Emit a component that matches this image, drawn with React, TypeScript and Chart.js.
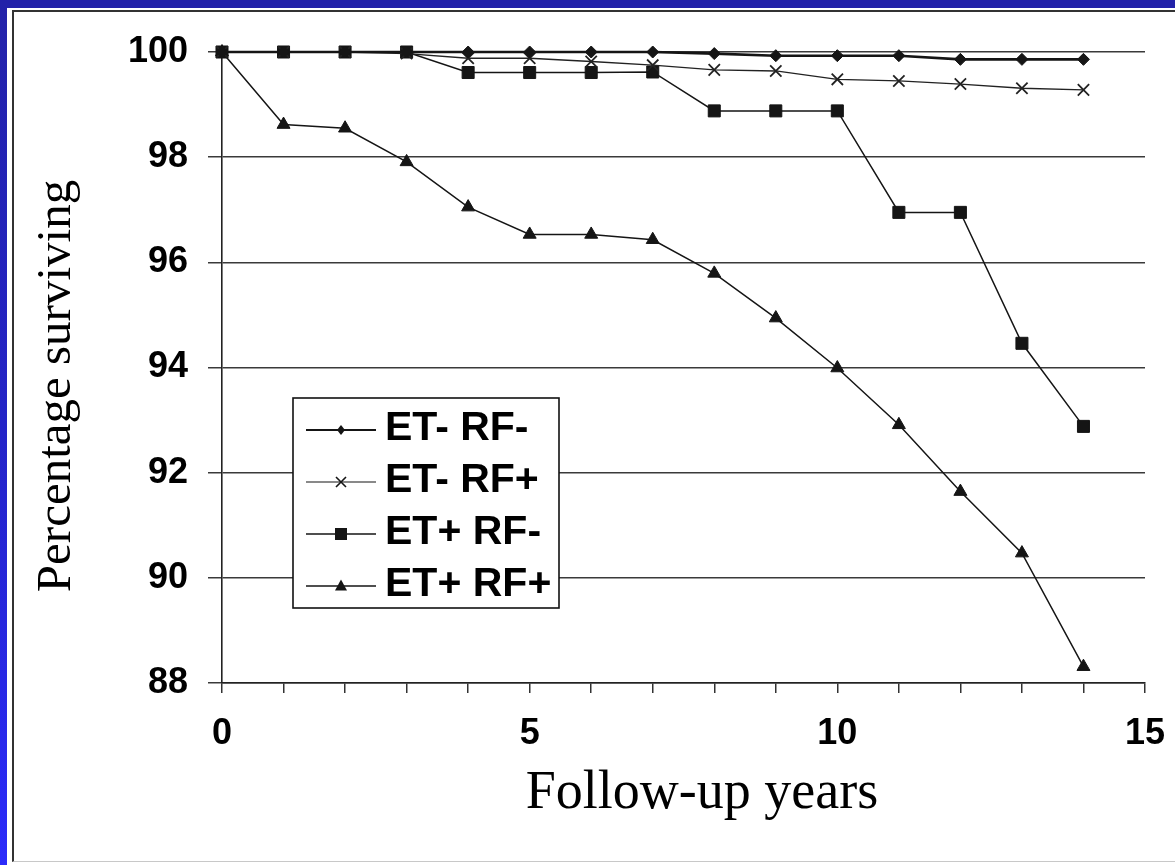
import React, { useEffect, useRef } from "react";
import { Chart, registerables } from "chart.js";

Chart.register(...registerables);

// ---- data ----
const years = [0, 1, 2, 3, 4, 5, 6, 7, 8, 9, 10, 11, 12, 13, 14];
const etNegRfNeg = [100, 100, 100, 100, 100, 100, 100, 100, 99.97, 99.93, 99.93, 99.93, 99.86, 99.86, 99.86];
const etNegRfPos = [100, 100, 100, 99.97, 99.88, 99.88, 99.82, 99.75, 99.66, 99.64, 99.48, 99.45, 99.39, 99.31, 99.28];
const etPosRfNeg = [100, 100, 100, 100, 99.61, 99.61, 99.61, 99.62, 98.88, 98.88, 98.88, 96.95, 96.95, 94.46, 92.88];
const etPosRfPos = [100, 98.62, 98.55, 97.91, 97.05, 96.53, 96.53, 96.43, 95.79, 94.94, 93.99, 92.91, 91.64, 90.47, 88.31];
const seriesLabels = ["ET- RF-", "ET- RF+", "ET+ RF-", "ET+ RF+"];
const yTitle = "Percentage surviving";
const xTitle = "Follow-up years";
const yMin = 88;
const yMax = 100;
const yStep = 2;
const xMin = 0;
const xMax = 15;
const xLabelEvery = 5;

const SANS = "'Liberation Sans', Arial, Helvetica, sans-serif";
const SERIF = "'Liberation Serif', 'Times New Roman', Times, serif";
const INK = "#151515";

function drawMarker(ctx: CanvasRenderingContext2D, style: string, x: number, y: number, s: number) {
  ctx.save();
  ctx.fillStyle = INK;
  ctx.strokeStyle = INK;
  ctx.beginPath();
  if (style === "rectRot") {
    ctx.moveTo(x - s * 0.8, y);
    ctx.lineTo(x, y - s);
    ctx.lineTo(x + s * 0.8, y);
    ctx.lineTo(x, y + s);
    ctx.closePath();
    ctx.fill();
  } else if (style === "crossRot") {
    ctx.lineWidth = 1.6;
    ctx.moveTo(x - s, y - s);
    ctx.lineTo(x + s, y + s);
    ctx.moveTo(x + s, y - s);
    ctx.lineTo(x - s, y + s);
    ctx.stroke();
  } else if (style === "rect") {
    ctx.rect(x - s, y - s, 2 * s, 2 * s);
    ctx.fill();
  } else {
    ctx.moveTo(x, y - s * 1.1);
    ctx.lineTo(x + s, y + s * 0.75);
    ctx.lineTo(x - s, y + s * 0.75);
    ctx.closePath();
    ctx.fill();
  }
  ctx.restore();
}

const legendStyles = [
  { style: "rectRot", size: 5, width: 2 },
  { style: "crossRot", size: 5, width: 1.2 },
  { style: "rect", size: 6, width: 1.3 },
  { style: "triangle", size: 6, width: 1.3 },
];

const overlayPlugin = {
  id: "overlay",
  afterDraw(chart: any) {
    const ctx: CanvasRenderingContext2D = chart.ctx;
    ctx.save();
    // axis titles
    ctx.fillStyle = "#000";
    ctx.font = `54px ${SERIF}`;
    ctx.textAlign = "center";
    ctx.textBaseline = "alphabetic";
    ctx.fillText(xTitle, 702, 808);
    ctx.save();
    ctx.translate(70, 386);
    ctx.rotate(-Math.PI / 2);
    ctx.font = `49px ${SERIF}`;
    ctx.fillText(yTitle, 0, 0);
    ctx.restore();

    // legend box
    const bx = 293, by = 398, bw = 266, bh = 210;
    ctx.fillStyle = "#fff";
    ctx.fillRect(bx, by, bw, bh);
    ctx.strokeStyle = "#111";
    ctx.lineWidth = 1.6;
    ctx.strokeRect(bx, by, bw, bh);
    ctx.font = `bold 41px ${SANS}`;
    ctx.textAlign = "left";
    ctx.textBaseline = "middle";
    seriesLabels.forEach((lab, i) => {
      const y = 430 + i * 52;
      const st = legendStyles[i];
      ctx.strokeStyle = INK;
      ctx.lineWidth = st.width;
      ctx.beginPath();
      ctx.moveTo(306, y);
      ctx.lineTo(376, y);
      ctx.stroke();
      drawMarker(ctx, st.style, 341, y, st.size);
      ctx.fillStyle = "#000";
      ctx.fillText(lab, 385, y - 1);
    });
    ctx.restore();
  },
};

function toPoints(values: number[]) {
  return values.map((v, i) => ({ x: years[i], y: v }));
}

export default function App() {
  const canvasRef = useRef<HTMLCanvasElement | null>(null);

  useEffect(() => {
    document.body.style.margin = "0";
    const canvas = canvasRef.current;
    if (!canvas) return;
    const chart = new Chart(canvas, {
      type: "line",
      data: {
        datasets: [
          {
            label: seriesLabels[0],
            data: toPoints(etNegRfNeg),
            borderColor: INK,
            backgroundColor: INK,
            borderWidth: 2.6,
            pointStyle: "rectRot",
            pointRadius: 6,
            pointBorderWidth: 1,
            clip: false,
          },
          {
            label: seriesLabels[1],
            data: toPoints(etNegRfPos),
            borderColor: "#222",
            backgroundColor: "#222",
            borderWidth: 1.4,
            pointStyle: "crossRot",
            pointRadius: 8,
            pointBorderWidth: 1.8,
            clip: false,
          },
          {
            label: seriesLabels[2],
            data: toPoints(etPosRfNeg),
            borderColor: INK,
            backgroundColor: INK,
            borderWidth: 1.5,
            pointStyle: "rect",
            pointRadius: 8.5,
            pointBorderWidth: 1,
            clip: false,
          },
          {
            label: seriesLabels[3],
            data: toPoints(etPosRfPos),
            borderColor: INK,
            backgroundColor: INK,
            borderWidth: 1.5,
            pointStyle: "triangle",
            pointRadius: 7.5,
            pointBorderWidth: 1,
            clip: false,
          },
        ],
      },
      options: {
        responsive: false,
        animation: false,
        devicePixelRatio: 1,
        layout: { padding: { top: 52, right: 30, left: 0, bottom: 0 } },
        plugins: {
          legend: { display: false },
          tooltip: { enabled: false },
        },
        scales: {
          x: {
            type: "linear",
            min: xMin,
            max: xMax,
            afterFit: (s: any) => {
              s.height = 182;
              s.paddingLeft = 0;
              s.paddingRight = 0;
            },
            ticks: {
              stepSize: 1,
              autoSkip: false,
              maxRotation: 0,
              padding: 19,
              color: "#000",
              font: { family: SANS, size: 36, weight: "bold" },
              callback: (v: any) => (Number(v) % xLabelEvery === 0 ? String(v) : ""),
            },
            grid: {
              drawOnChartArea: false,
              drawTicks: true,
              tickLength: 10,
              color: "#333",
              lineWidth: 1.5,
            },
            border: { display: true, color: "#222", width: 1.6 },
          },
          y: {
            type: "linear",
            min: yMin,
            max: yMax,
            afterFit: (s: any) => {
              s.width = 222;
              s.paddingTop = 0;
              s.paddingBottom = 0;
            },
            ticks: {
              stepSize: yStep,
              padding: 20,
              color: "#000",
              font: { family: SANS, size: 36, weight: "bold" },
            },
            grid: {
              color: "#3a3a3a",
              lineWidth: 1.5,
              tickLength: 14,
              drawTicks: true,
            },
            border: { display: true, color: "#222", width: 1.6 },
          },
        },
      },
      plugins: [overlayPlugin],
    } as any);
    return () => chart.destroy();
  }, []);

  return (
    <div style={{ position: "relative", width: 1175, height: 865, background: "#fff", overflow: "hidden" }}>
      <div style={{ position: "absolute", left: 12, top: 10, width: 1163, height: 852, borderLeft: "2px solid #333", borderTop: "2px solid #333", borderBottom: "1px solid #c8c8c8", boxSizing: "border-box" }} />
      <div style={{ position: "absolute", left: 0, top: 0, width: 1175, height: 8, background: "#2322a9" }} />
      <div style={{ position: "absolute", left: 0, top: 0, width: 7, height: 865, background: "linear-gradient(#2322a9, #2424c8 50%, #2b2bfa)" }} />
      <canvas ref={canvasRef} width={1175} height={865} style={{ position: "absolute", left: 0, top: 0, width: 1175, height: 865 }} />
    </div>
  );
}
